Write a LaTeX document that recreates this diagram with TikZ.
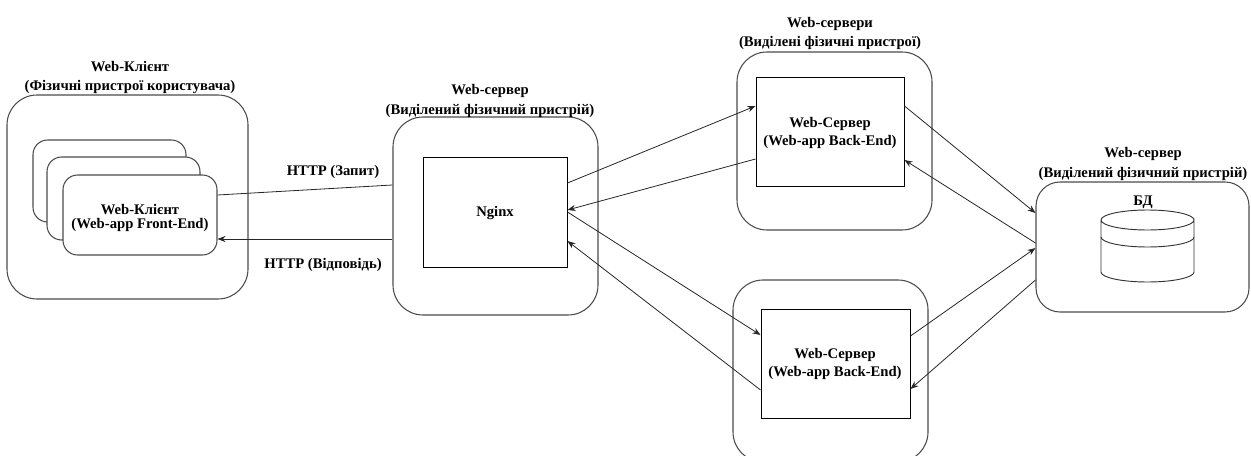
\documentclass[tikz,border=0pt]{standalone}
\usepackage{fontspec}
\setmainfont{Liberation Serif}
\usetikzlibrary{arrows.meta,fit,calc}

\begin{document}
\begin{tikzpicture}[x=0.75pt,y=-0.75pt,
  host/.style={draw=black!70, line width=0.8pt, rounded corners=22.5pt, inner sep=0pt},
  card/.style={draw=black!70, line width=0.8pt, fill=white, rounded corners=11pt, inner sep=0pt},
  app/.style={draw=black, line width=0.7pt, fill=white, inner sep=0pt},
  lbl/.style={font=\bfseries\fontsize{11}{13}\selectfont, align=center, inner sep=0pt},
  hostcap/.style={lbl, font=\bfseries\fontsize{11}{14.5}\selectfont},
  link/.style={draw=black!85, line width=0.6pt},
  arr/.style={link, -{Stealth[length=6pt,width=4.6pt]}}]

\useasboundingbox (0,0) rectangle (1251,456);

% hosts
\node[host, fit={(7,95) (248,299)}] (clienthost) {};
\node[host, fit={(393,117) (598,315)}] (proxyhost) {};
\node[host, fit={(737,52) (932,230)}] (tophost) {};
\node[host, fit={(733,280) (928,462)}] (bothost) {};
\node[host, rounded corners=18pt, fit={(1036,182) (1249,312)}] (dbhost) {};

% host captions
\node[hostcap] (clientcap) at (130,77.5) {Web-Клієнт\\(Фізичні пристрої користувача)};
\node[hostcap] (proxycap) at (490,101) {Web-сервер\\(Виділений фізичний пристрій)};
\node[hostcap] (topcap) at (830,33.5) {Web-сервери\\(Виділені фізичні пристрої)};
\node[hostcap] (dbcap) at (1143,164) {Web-сервер\\(Виділений фізичний пристрій)};

% stacked client devices
\node[card, fit={(33,140) (186,222)}] (card3) {};
\node[card, fit={(47,157) (200,240)}] (card2) {};
\node[card, fit={(63,175) (217,255)}] (front) {};
\node[lbl, font=\bfseries\fontsize{11}{11}\selectfont] (fronttext) at (140,218) {Web-Клієнт\\(Web-app Front-End)};

% applications
\node[app, fit={(423,157) (567,267)}] (nginx) {};
\node[lbl] (nginxtext) at (495,213) {Nginx};
\node[app, fit={(756,77) (904,186)}] (backtop) {};
\node[lbl] (backtoptext) at (830,133) {Web-Сервер\\(Web-app Back-End)};
\node[app, fit={(761,309) (910,418)}] (backbot) {};
\node[lbl] (backbottext) at (835,364) {Web-Сервер\\(Web-app Back-End)};

% database
\node[lbl] (dbtext) at (1143,202) {БД};
\draw[line width=0.7pt, draw=black!80]
  (1101,220) -- (1101,272) arc[start angle=180, end angle=0, x radius=46.5, y radius=10]
  -- (1194,220) arc[start angle=0, end angle=360, x radius=46.5, y radius=10];
\draw[line width=0.7pt, draw=black!80]
  (1101,237) arc[start angle=180, end angle=0, x radius=46.5, y radius=10];

% client <-> proxy
\draw[link] (front.east |- 0,195) -- (proxyhost.west |- 0,185);
\draw[arr] (proxyhost.west |- 0,239) -- (front.east |- 0,239);
\node[lbl] (reqlbl) at (333,172) {HTTP (Запит)};
\node[lbl] (reslbl) at (323,265) {HTTP (Відповідь)};

% proxy <-> back-ends
\draw[arr] (nginx.east |- 0,183) -- (backtop.west |- 0,106);
\draw[arr] (backtop.west |- 0,159) -- (nginx.east |- 0,210);
\draw[arr] (nginx.east |- 0,212) -- (backbot.west |- 0,335);
\draw[arr] (backbot.west |- 0,390) -- (nginx.east |- 0,241);

% back-ends <-> database
\draw[arr] (backtop.east |- 0,106) -- (dbhost.west |- 0,213);
\draw[arr] (dbhost.west |- 0,243) -- (backtop.east |- 0,160);
\draw[arr] (backbot.east |- 0,336) -- (dbhost.west |- 0,248);
\draw[arr] (dbhost.west |- 0,280) -- (backbot.east |- 0,389);

\end{tikzpicture}
\end{document}
